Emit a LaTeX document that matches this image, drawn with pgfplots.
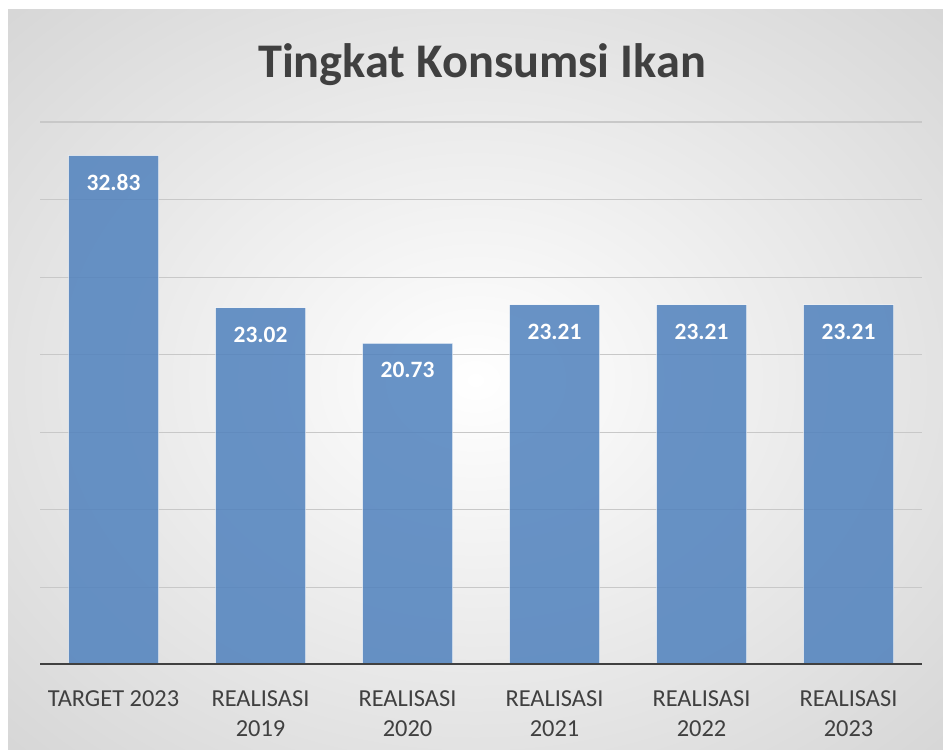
\documentclass[border=0pt]{standalone}
\usepackage{fontspec}
\setmainfont{Carlito}
\usepackage{pgfplots}
\pgfplotsset{compat=1.18}
\definecolor{barc}{RGB}{79,129,189}
\definecolor{txt}{RGB}{64,64,64}
\definecolor{gridc}{RGB}{200,200,200}
\definecolor{bgout}{RGB}{198,198,198}
\begin{document}
\begin{tikzpicture}[x=1bp,y=1bp]
\useasboundingbox (0,0) rectangle (943,750);
\fill[white] (0,0) rectangle (943,750);
\begin{scope}
\clip (8,0) rectangle (943,740);
\shade[inner color=white, outer color=bgout] (8-467,-370) rectangle (943+467,740+370);
\end{scope}
\node[font=\fontsize{48.5}{58}\selectfont\bfseries, text=txt, anchor=base, inner sep=0pt] at (482,672) {Tingkat Konsumsi Ikan};
\begin{axis}[
  at={(40bp,85bp)}, anchor=south west, scale only axis,
  width=882bp, height=543bp,
  xmin=-0.5, xmax=5.5, ymin=0, ymax=35,
  ytick={5,10,...,35}, yticklabels={},
  ymajorgrids, grid style={gridc, line width=1.2bp},
  axis line style={draw=none},
  xtick=data,
  xticklabels={{TARGET 2023},{REALISASI\\2019},{REALISASI\\2020},{REALISASI\\2021},{REALISASI\\2022},{REALISASI\\2023}},
  major tick length=0,
  xticklabel style={align=center, font=\fontsize{24.5}{31}\selectfont, text=txt, inner sep=0pt, yshift=-25bp},
  ybar, bar width=90bp,
  /pgf/number format/assume math mode=true,
  /pgf/number format/.cd, fixed, fixed zerofill, precision=2, /pgfplots/.cd,
  nodes near coords,
  nodes near coords style={font=\fontsize{23.5}{28}\selectfont\bfseries, text=white, text opacity=1, anchor=center, yshift=-27bp},
]
\addplot[fill=barc, fill opacity=0.85, draw=white, draw opacity=0.5, line width=1bp]
  coordinates {(0,32.83) (1,23.02) (2,20.73) (3,23.21) (4,23.21) (5,23.21)};
\draw[txt, line width=3.2bp] (rel axis cs:0,0) -- (rel axis cs:1,0);
\end{axis}
\end{tikzpicture}
\end{document}
